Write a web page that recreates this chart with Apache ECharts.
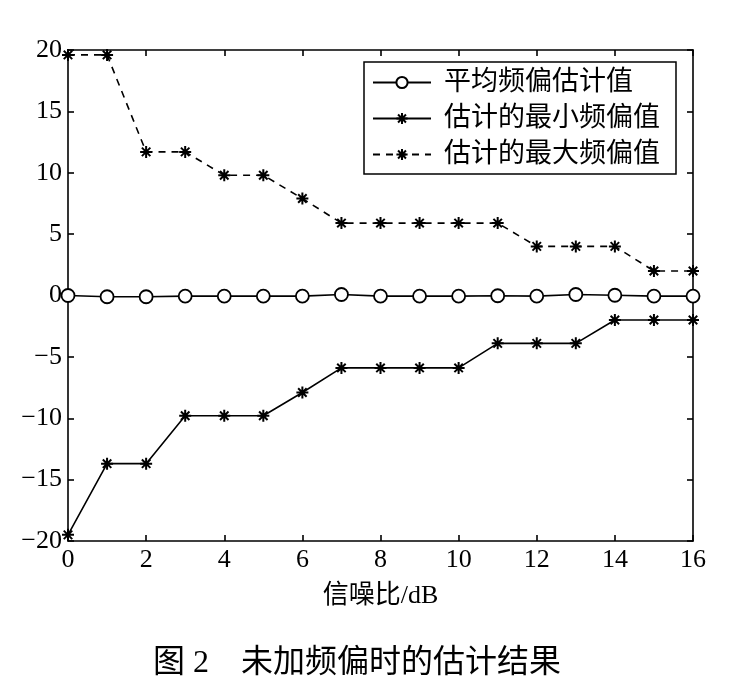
<!DOCTYPE html>
<html><head><meta charset="utf-8">
<script src="https://cdn.jsdelivr.net/npm/echarts@6/dist/echarts.min.js"></script>
<style>html,body{margin:0;padding:0;background:#fff}#c{width:732px;height:678px}</style>
</head><body><div id="c"></div>
<script>
const snr = [0,1,2,3,4,5,6,7,8,9,10,11,12,13,14,15,16];
const meanBias = [0,-0.1,-0.1,-0.05,-0.05,-0.05,-0.05,0.08,-0.05,-0.05,-0.05,-0.02,-0.05,0.08,0.02,-0.05,-0.05];
const minBias = [-19.5,-13.7,-13.7,-9.8,-9.8,-9.8,-7.9,-5.9,-5.9,-5.9,-5.9,-3.9,-3.9,-3.9,-2.0,-2.0,-2.0];
const maxBias = [19.6,19.6,11.7,11.7,9.8,9.8,7.9,5.9,5.9,5.9,5.9,5.9,4.0,4.0,4.0,2.0,2.0];
const names = ['平均频偏估计值','估计的最小频偏值','估计的最大频偏值'];
const xName = '信噪比/dB';
const caption = '图 2　未加频偏时的估计结果';

const FONT = '"Liberation Serif", "Noto Sans CJK SC", serif';
const star = 'path://M0 -10 L0 10 M-10 0 L10 0 M-7.07 -7.07 L7.07 7.07 M-7.07 7.07 L7.07 -7.07';
const pair = a => snr.map((x,i)=>[x,a[i]]);
const axisCommon = {
  axisLine:{show:true,onZero:false,lineStyle:{color:'#000',width:1.6}},
  axisTick:{show:true,inside:true,length:6,lineStyle:{color:'#000',width:1.6}},
  splitLine:{show:false}
};
const chart = echarts.init(document.getElementById('c'));
chart.setOption({
  animation:false,
  backgroundColor:'#fff',
  textStyle:{fontFamily:FONT,color:'#000'},
  grid:{left:68,top:50,right:39,bottom:137,containLabel:false},
  title:{text:caption,left:148,top:643,textStyle:{fontFamily:FONT,fontSize:32,fontWeight:'normal',color:'#000'}},
  legend:{
    orient:'vertical',left:364,top:62,
    data:names,
    backgroundColor:'#fff',borderColor:'#000',borderWidth:1.5,borderRadius:0,
    padding:[7,16,6,8],itemGap:9,itemWidth:58,itemHeight:14,
    textStyle:{fontFamily:FONT,fontSize:27,color:'#000',padding:[0,0,0,8]}
  },
  xAxis:[
    Object.assign({type:'value',min:0,max:16,interval:2,position:'bottom',
      name:xName,nameLocation:'middle',nameGap:42,
      nameTextStyle:{fontFamily:FONT,fontSize:26,color:'#000'},
      axisLabel:{fontFamily:FONT,fontSize:26,color:'#000',margin:6}},axisCommon),
    Object.assign({type:'value',min:0,max:16,interval:2,position:'top',axisLabel:{show:false}},axisCommon)
  ],
  yAxis:[
    Object.assign({type:'value',min:-20,max:20,interval:5,position:'left',
      axisLabel:{fontFamily:FONT,fontSize:26,color:'#000',margin:6,
        formatter:v=>String(v).replace('-','\u2212')}},axisCommon),
    Object.assign({type:'value',min:-20,max:20,interval:5,position:'right',axisLabel:{show:false}},axisCommon)
  ],
  series:[
    {name:names[0],type:'line',data:pair(meanBias),symbol:'circle',symbolSize:13,showAllSymbol:true,
      lineStyle:{color:'#000',width:1.6},itemStyle:{color:'#fff',borderColor:'#000',borderWidth:1.8}},
    {name:names[1],type:'line',data:pair(minBias),symbol:star,symbolSize:12,showAllSymbol:true,
      lineStyle:{color:'#000',width:1.6},itemStyle:{color:'#000',borderColor:'#000',borderWidth:2}},
    {name:names[2],type:'line',data:pair(maxBias),symbol:star,symbolSize:12,showAllSymbol:true,
      lineStyle:{color:'#000',width:1.6,type:[7,6]},itemStyle:{color:'#000',borderColor:'#000',borderWidth:2}}
  ]
});
</script></body></html>
